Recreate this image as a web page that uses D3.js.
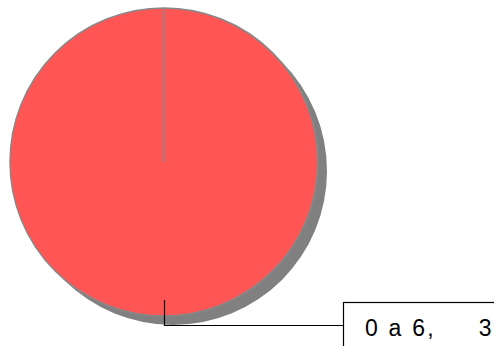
<!DOCTYPE html>
<html><head><meta charset="utf-8">
<script src="https://cdn.jsdelivr.net/npm/d3@7"></script>
<style>body{margin:0;background:#fff}svg{display:block}</style>
</head><body>
<svg id="c" width="494" height="346"></svg>
<script>
const categories = ["0 a 6,     3"];
const values = [100];
const colors = ["#ff5555"];

const svg = d3.select("#c");
const cx = 164, cy = 162, r = 154;
const pie = d3.pie().sort(null)(values);
const arc = d3.arc().innerRadius(0).outerRadius(r);

// shadow
svg.append("g").attr("transform", `translate(${cx+9},${cy+9})`)
  .selectAll("path").data(pie).join("path")
  .attr("d", arc).attr("fill", "#808080");

const g = svg.append("g").attr("transform", `translate(${cx},${cy})`);
g.selectAll("path.s").data(pie).join("path").attr("class","s")
  .attr("d", arc).attr("fill", (d,i)=>colors[i])
  .attr("stroke", "#888").attr("stroke-width", 1.5);
// slice boundary
g.selectAll("line.b").data(pie).join("line").attr("class","b")
  .attr("x1",0).attr("y1",0)
  .attr("x2", d=>r*Math.sin(d.startAngle)).attr("y2", d=>-r*Math.cos(d.startAngle))
  .attr("stroke","#888").attr("stroke-width",1.5);

// label leader
const lx = 164.5, ly1 = 300, ly2 = 325.5, bx = 343.5, by = 302.5;
svg.append("path")
  .attr("d", `M${lx},${ly1}V${ly2}H${bx}`)
  .attr("fill","none").attr("stroke","#000").attr("stroke-width",1.2);
svg.append("rect").attr("x",bx).attr("y",by).attr("width",200).attr("height",100)
  .attr("fill","#fff").attr("stroke","#000").attr("stroke-width",1.2);
svg.append("text").attr("x",365).attr("y",336)
  .attr("font-family","Liberation Sans, Arial, sans-serif").attr("font-size",23)
  .attr("letter-spacing",2.2)
  .style("white-space","pre").attr("fill","#000")
  .text(categories[0]);
</script>
</body></html>
